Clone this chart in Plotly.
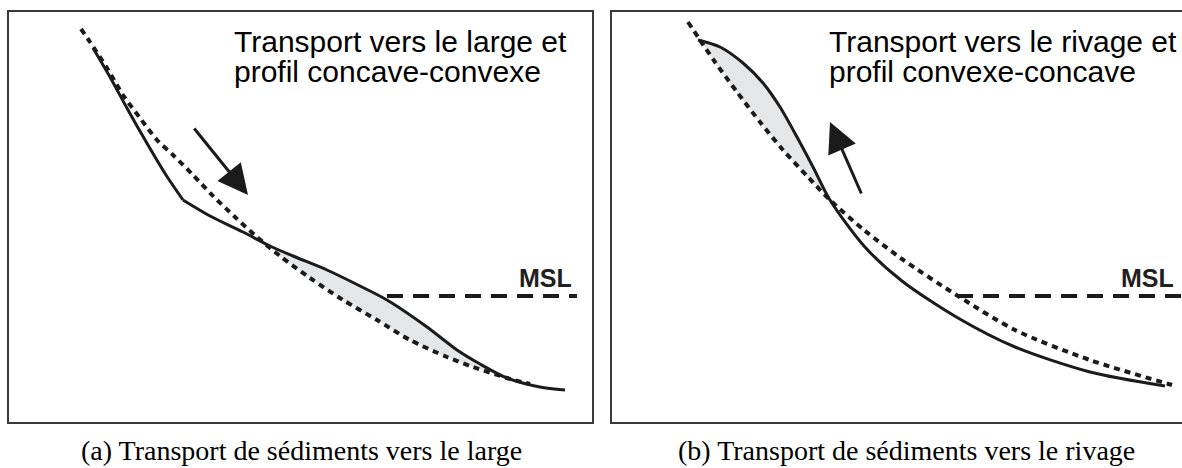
import plotly.graph_objects as go

W, H = 1182, 468

# ---------------- data (panel-local units: distance, elevation) ----------------
# Panel (a): transport vers le large, profil concave-convexe
a_solid_upper_x = [84, 101, 119, 139, 157, 174]
a_solid_upper_y = [374, 345, 312, 277, 247, 222]
a_solid_lower_x = [174, 201, 234, 261, 284, 318, 351, 378, 418, 448, 471, 498, 531, 556]
a_solid_lower_y = [222, 206, 190, 176, 166, 152, 136, 122, 95, 72, 58, 44, 35, 32]
a_ref_x = [72, 81, 98, 114, 131, 148, 164, 184, 204, 226, 248, 271, 301, 334, 368, 401, 438, 464, 498, 521]
a_ref_y = [393, 380, 354, 327, 304, 282, 267, 247, 226, 205, 185, 166, 144, 122, 102, 82, 65, 55, 44, 38]
a_msl_x = [378, 568]
a_arrow_tail = (184, 295)
a_arrow_tip = (239, 227)

# Panel (b): transport vers le rivage, profil convexe-concave
b_solid_x = [86, 108, 131, 151, 168, 185, 201, 218, 252, 290, 346, 403, 478, 553]
b_solid_y = [382, 375, 359, 339, 315, 285, 255, 222, 176, 141, 104, 75, 50, 36]
b_ref_x = [76, 88, 103, 125, 148, 171, 196, 218, 252, 290, 346, 403, 478, 560]
b_ref_y = [400, 382, 360, 330, 300, 272, 245, 222, 192, 163, 126, 92, 62, 37]
b_msl_x = [345, 575]
b_arrow_tail = (250, 227)
b_arrow_tip = (218, 300)

MSL_LEVEL = 126

titles_a = ["Transport vers le large et", "profil concave-convexe"]
titles_b = ["Transport vers le rivage et", "profil convexe-concave"]
captions = ["(a) Transport de sédiments vers le large",
            "(b) Transport de sédiments vers le rivage"]

# ---------------- styles ----------------
INK = "#1b1b1b"
FILL = "#e5e6e7"
FRAME = "#3a3a3a"

fig = go.Figure()

def fill_poly(sx, sy, rx, ry, lo, hi):
    px = [x for x in sx if lo <= x <= hi]
    py = [y for x, y in zip(sx, sy) if lo <= x <= hi]
    qx = [x for x in rx if lo <= x <= hi][::-1]
    qy = [y for x, y in zip(rx, ry) if lo <= x <= hi][::-1]
    return px + qx, py + qy

DOT = dict(color=INK, width=4, dash="6px,5px", shape="spline", smoothing=0.8)
SOLID = dict(color=INK, width=3, shape="spline", smoothing=0.8)
MSL_STYLE = dict(color=INK, width=4, dash="16px,10px")

# Panel (a)
fx, fy = fill_poly(a_solid_lower_x, a_solid_lower_y, a_ref_x, a_ref_y, 261, 498)
fig.add_trace(go.Scatter(x=fx, y=fy, fill="toself", fillcolor=FILL, mode="none",
                         line_shape="spline", xaxis="x", yaxis="y"))
fig.add_trace(go.Scatter(x=a_ref_x, y=a_ref_y, mode="lines", line=DOT, xaxis="x", yaxis="y"))
fig.add_trace(go.Scatter(x=a_solid_upper_x, y=a_solid_upper_y, mode="lines", line=SOLID,
                         xaxis="x", yaxis="y"))
fig.add_trace(go.Scatter(x=a_solid_lower_x, y=a_solid_lower_y, mode="lines", line=SOLID,
                         xaxis="x", yaxis="y"))
fig.add_trace(go.Scatter(x=a_msl_x, y=[MSL_LEVEL, MSL_LEVEL], mode="lines", line=MSL_STYLE,
                         xaxis="x", yaxis="y"))

# Panel (b)
fx, fy = fill_poly(b_solid_x, b_solid_y, b_ref_x, b_ref_y, 86, 218)
fig.add_trace(go.Scatter(x=fx, y=fy, fill="toself", fillcolor=FILL, mode="none",
                         line_shape="spline", xaxis="x2", yaxis="y2"))
fig.add_trace(go.Scatter(x=b_ref_x, y=b_ref_y, mode="lines", line=DOT, xaxis="x2", yaxis="y2"))
fig.add_trace(go.Scatter(x=b_solid_x, y=b_solid_y, mode="lines", line=SOLID,
                         xaxis="x2", yaxis="y2"))
fig.add_trace(go.Scatter(x=b_msl_x, y=[MSL_LEVEL, MSL_LEVEL], mode="lines", line=MSL_STYLE,
                         xaxis="x2", yaxis="y2"))

ax_common = dict(showgrid=False, zeroline=False, showticklabels=False, ticks="",
                 showline=True, linecolor=FRAME, linewidth=2, fixedrange=True)

annotations = []
# arrows
for (tail, tip, xr, yr) in [(a_arrow_tail, a_arrow_tip, "x", "y"),
                            (b_arrow_tail, b_arrow_tip, "x2", "y2")]:
    annotations.append(dict(x=tip[0], y=tip[1], ax=tail[0], ay=tail[1],
                            xref=xr, yref=yr, axref=xr, ayref=yr, text="",
                            showarrow=True, arrowhead=2, arrowsize=2.0,
                            arrowwidth=3, arrowcolor=INK, standoff=0))
# panel titles
for i, (la, lb) in enumerate(zip(titles_a, titles_b)):
    yv = 381 - 30 * i
    annotations.append(dict(x=223, y=yv, xref="x", yref="y", text=la, showarrow=False,
                            xanchor="left", yanchor="middle",
                            font=dict(family="Liberation Sans, Arial", size=30, color="black")))
    annotations.append(dict(x=215, y=yv, xref="x2", yref="y2", text=lb, showarrow=False,
                            xanchor="left", yanchor="middle",
                            font=dict(family="Liberation Sans, Arial", size=30, color="black")))
# MSL labels
for xr, yr, xv in [("x", "y", 565), ("x2", "y2", 564)]:
    annotations.append(dict(x=xv, y=144, xref=xr, yref=yr, text="<b>MSL</b>", showarrow=False,
                            xanchor="right", yanchor="middle",
                            font=dict(family="Liberation Sans, Arial", size=25, color="#231f20")))
# captions
for cx, cap in zip([301.5 / W, 906 / W], captions):
    annotations.append(dict(x=cx, y=0, xref="paper", yref="paper", text=cap,
                            showarrow=False, xanchor="center", yanchor="bottom",
                            font=dict(family="Liberation Serif, Times New Roman", size=28, color="black")))

fig.update_layout(
    width=W, height=H,
    margin=dict(l=0, r=0, t=0, b=0),
    paper_bgcolor="white", plot_bgcolor="white",
    showlegend=False,
    xaxis=dict(domain=[9 / W, 592 / W], range=[0, 583], mirror=True, **ax_common),
    yaxis=dict(domain=[46 / H, 456 / H], range=[0, 410], mirror=True, **ax_common),
    xaxis2=dict(domain=[612 / W, 1.0], range=[0, 570], mirror=True, anchor="y2", **ax_common),
    yaxis2=dict(domain=[46 / H, 456 / H], range=[0, 410], mirror=False, anchor="x2", **ax_common),
    annotations=annotations,
)

fig.write_html(
    "out.html",
    config={"displayModeBar": False, "staticPlot": True},
    post_script="document.body.style.margin='0';document.body.style.padding='0';document.body.style.overflow='hidden';",
)
